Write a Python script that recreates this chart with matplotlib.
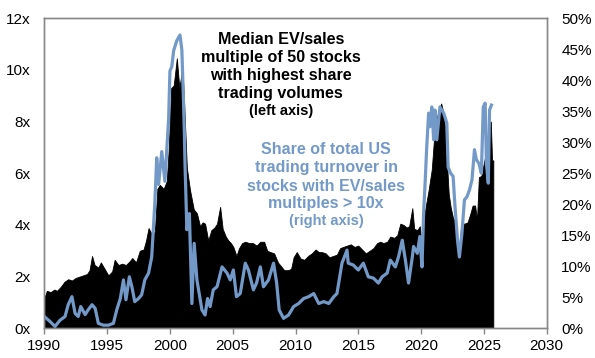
"""Median EV/sales of most-traded stocks vs share of turnover in >10x EV/sales stocks."""
import matplotlib
matplotlib.use("Agg")
import matplotlib.pyplot as plt
from matplotlib.ticker import FuncFormatter

plt.rcParams["font.family"] = ["Liberation Sans", "DejaVu Sans"]

# median EV/sales multiple (left axis)
ev_years = [
    1990.0, 1990.2, 1990.5, 1990.8, 1991.0, 1991.3, 1991.6, 1991.9, 1992.2, 1992.5,
    1992.8, 1993.1, 1993.4, 1993.6, 1993.8, 1994.0, 1994.3, 1994.5, 1994.8, 1995.1,
    1995.4, 1995.6, 1995.9, 1996.2, 1996.5, 1996.8, 1997.0, 1997.3, 1997.6, 1997.9,
    1998.1, 1998.3, 1998.6, 1998.8, 1999.0, 1999.2, 1999.5, 1999.75, 1999.9, 2000.1,
    2000.3, 2000.55, 2000.75, 2001.0, 2001.15, 2001.35, 2001.6, 2001.9, 2002.15, 2002.4,
    2002.6, 2002.8, 2003.05, 2003.3, 2003.55, 2003.75, 2004.0, 2004.2, 2004.45, 2004.65,
    2004.85, 2005.05, 2005.3, 2005.5, 2005.75, 2006.0, 2006.3, 2006.6, 2006.9, 2007.2,
    2007.5, 2007.75, 2008.0, 2008.3, 2008.6, 2008.85, 2009.1, 2009.4, 2009.65, 2009.85,
    2010.1, 2010.4, 2010.7, 2011.0, 2011.3, 2011.6, 2011.85, 2012.1, 2012.4, 2012.7,
    2013.0, 2013.3, 2013.55, 2013.8, 2014.1, 2014.4, 2014.7, 2015.0, 2015.3, 2015.6,
    2015.9, 2016.2, 2016.5, 2016.75, 2017.0, 2017.3, 2017.55, 2017.85, 2018.1, 2018.35,
    2018.6, 2018.85, 2019.05, 2019.3, 2019.45, 2019.7, 2019.9, 2020.05, 2020.2, 2020.4,
    2020.6, 2020.85, 2021.1, 2021.4, 2021.6, 2021.75, 2021.9, 2022.05, 2022.2, 2022.35,
    2022.55, 2022.75, 2022.9, 2023.0, 2023.2, 2023.45, 2023.7, 2023.9, 2024.1, 2024.3,
    2024.45, 2024.6, 2024.8, 2025.0, 2025.25, 2025.45, 2025.55, 2025.65, 2025.75,
]
ev_sales = [
    1.17, 1.45, 1.40, 1.50, 1.45, 1.60, 1.80, 1.90, 1.85, 1.95,
    2.00, 2.05, 2.10, 2.25, 2.80, 2.45, 2.35, 2.55, 2.30, 2.05,
    2.20, 2.65, 2.45, 2.50, 2.45, 2.60, 2.72, 2.55, 3.00, 3.05,
    3.40, 3.88, 3.60, 3.75, 5.40, 5.55, 5.40, 5.70, 6.90, 9.30,
    9.40, 10.45, 9.30, 10.10, 8.50, 6.20, 5.35, 4.60, 4.45, 3.95,
    4.10, 4.05, 3.40, 3.80, 3.90, 4.05, 4.70, 3.85, 3.55, 3.40,
    3.30, 3.15, 2.80, 3.10, 3.30, 3.35, 3.30, 3.30, 3.20, 3.35,
    3.35, 3.00, 2.95, 2.90, 2.55, 2.40, 2.25, 2.25, 2.30, 2.75,
    2.95, 2.70, 2.65, 2.80, 2.90, 3.05, 2.95, 2.95, 2.90, 2.75,
    2.80, 2.85, 3.10, 3.15, 3.20, 3.25, 3.15, 3.20, 3.05, 2.90,
    3.00, 3.10, 3.30, 3.35, 3.30, 3.35, 3.55, 3.50, 3.60, 4.05,
    4.00, 3.90, 3.95, 4.65, 3.85, 3.80, 3.95, 3.15, 4.20, 4.80,
    5.35, 6.15, 7.80, 8.45, 8.70, 8.40, 7.80, 6.50, 5.20, 4.70,
    4.25, 4.15, 3.40, 2.80, 4.05, 4.05, 4.10, 4.40, 4.75, 4.75,
    4.20, 5.85, 5.90, 6.40, 7.00, 7.95, 8.00, 6.50, 6.50,
]

# share of US trading turnover in stocks with EV/sales > 10x (right axis, %)
share_years = [
    1990.0, 1990.45, 1990.85, 1991.25, 1991.65, 1991.9, 1992.2, 1992.45, 1992.7, 1992.9,
    1993.25, 1993.5, 1993.8, 1994.05, 1994.3, 1994.7, 1995.1, 1995.5, 1995.77, 1996.05,
    1996.3, 1996.5, 1996.77, 1996.97, 1997.2, 1997.5, 1997.75, 1998.0, 1998.3, 1998.55,
    1998.8, 1998.95, 1999.1, 1999.35, 1999.6, 1999.9, 2000.0, 2000.15, 2000.3, 2000.55,
    2000.8, 2000.95, 2001.07, 2001.15, 2001.2, 2001.35, 2001.55, 2001.75, 2001.93, 2002.15,
    2002.55, 2002.8, 2003.0, 2003.2, 2003.45, 2003.75, 2004.15, 2004.55, 2004.8, 2005.05,
    2005.3, 2005.6, 2006.0, 2006.25, 2006.65, 2006.9, 2007.2, 2007.45, 2007.85, 2008.25,
    2008.5, 2008.7, 2009.05, 2009.45, 2009.85, 2010.25, 2010.65, 2011.05, 2011.45, 2011.85,
    2012.25, 2012.65, 2013.05, 2013.3, 2013.7, 2014.1, 2014.2, 2014.6, 2015.0, 2015.4,
    2015.8, 2016.2, 2016.6, 2016.9, 2017.3, 2017.55, 2017.95, 2018.2, 2018.5, 2018.75,
    2019.0, 2019.3, 2019.4, 2019.7, 2019.9, 2020.07, 2020.2, 2020.33, 2020.45, 2020.6,
    2020.7, 2020.85, 2021.0, 2021.1, 2021.25, 2021.5, 2021.8, 2022.05, 2022.15, 2022.35,
    2022.55, 2022.7, 2022.9, 2023.05, 2023.25, 2023.45, 2023.65, 2023.85, 2024.05, 2024.25,
    2024.4, 2024.6, 2024.8, 2024.95, 2025.1, 2025.2, 2025.35, 2025.45, 2025.6,
]
share_pct = [
    1.9, 1.1, 0.3, 1.3, 1.9, 3.8, 5.1, 2.4, 1.9, 3.5,
    2.2, 3.0, 3.8, 3.2, 0.8, 0.5, 0.5, 0.8, 3.0, 4.8,
    7.8, 4.6, 8.3, 6.7, 4.3, 4.8, 5.4, 7.8, 8.9, 11.5,
    20.2, 27.5, 23.2, 28.5, 23.7, 33.9, 41.5, 42.2, 44.8, 46.4,
    47.3, 44.9, 37.4, 31.5, 26.6, 15.9, 18.5, 4.0, 13.7, 7.8,
    2.95, 2.15, 4.8, 3.5, 6.2, 6.7, 9.9, 8.9, 7.8, 9.4,
    5.1, 5.6, 10.5, 9.4, 6.2, 7.3, 9.9, 6.7, 7.8, 10.5,
    7.3, 2.95, 1.6, 2.15, 3.5, 4.0, 4.8, 5.1, 5.6, 4.0,
    4.3, 4.0, 5.1, 5.6, 10.5, 12.6, 10.5, 10.2, 9.4, 10.5,
    8.3, 8.1, 7.3, 8.3, 8.9, 11.0, 9.9, 11.5, 14.2, 11.0,
    7.3, 11.5, 13.2, 12.1, 14.8, 9.9, 18.5, 23.9, 29.3, 34.7,
    32.5, 35.7, 30.4, 35.2, 30.4, 35.7, 34.7, 33.1, 26.0, 25.0,
    24.5, 19.6, 14.2, 11.5, 15.3, 20.7, 21.2, 22.3, 23.9, 28.8,
    27.2, 26.6, 25.0, 35.7, 36.3, 26.6, 23.4, 35.2, 36.0,
]

x_ticks = list(range(1990, 2031, 5))
left_ticks = list(range(0, 13, 2))
right_ticks = list(range(0, 51, 5))

BLUE = "#7399c8"
GREY = "#888888"

fig = plt.figure(figsize=(5.95, 3.58), dpi=100)
ax = fig.add_axes([0.0745, 0.083, 0.8443, 0.866])
ax.fill_between(ev_years, 0, ev_sales, color="black", linewidth=0.6, edgecolor="black")
ax.set_xlim(1990, 2030)
ax.set_ylim(0, 12)
ax.set_xticks(x_ticks)
ax.set_yticks(left_ticks)
ax.yaxis.set_major_formatter(FuncFormatter(lambda v, _: f"{v:.0f}x"))
ax.tick_params(axis="y", length=0, pad=10, labelsize=11)
ax.tick_params(axis="x", length=4, width=1, color=GREY, pad=4, labelsize=11)

ax2 = ax.twinx()
ax2.plot(share_years, share_pct, color=BLUE, linewidth=2.3, solid_joinstyle="round")
ax2.set_ylim(0, 50)
ax2.set_yticks(right_ticks)
ax2.yaxis.set_major_formatter(FuncFormatter(lambda v, _: f"{v:.0f}%"))
ax2.tick_params(axis="y", length=0, pad=10.5, labelsize=11)

for a in (ax, ax2):
    for s in a.spines.values():
        s.set_color(GREY)
        s.set_linewidth(1)

black_lines = ["Median EV/sales", "multiple of 50 stocks", "with highest share", "trading volumes"]
black_y = [0.917, 0.858, 0.801, 0.742]
for txt, yy in zip(black_lines, black_y):
    ax.text(0.4706, yy, txt, transform=ax.transAxes, ha="center", va="baseline",
            fontsize=11.6, fontweight="bold", color="black")
ax.text(0.4706, 0.688, "(left axis)", transform=ax.transAxes, ha="center", va="baseline",
        fontsize=10.5, fontweight="bold", color="black")

blue_lines = ["Share of total US", "trading turnover in", "stocks with EV/sales", "multiples > 10x"]
blue_y = [0.5623, 0.5052, 0.4439, 0.387]
for txt, yy in zip(blue_lines, blue_y):
    ax2.text(0.561, yy, txt, transform=ax2.transAxes, ha="center", va="baseline",
             fontsize=11.5, fontweight="bold", color=BLUE)
ax2.text(0.561, 0.333, "(right axis)", transform=ax2.transAxes, ha="center", va="baseline",
         fontsize=10.5, fontweight="bold", color=BLUE)

fig.savefig("out.png", dpi=100)
